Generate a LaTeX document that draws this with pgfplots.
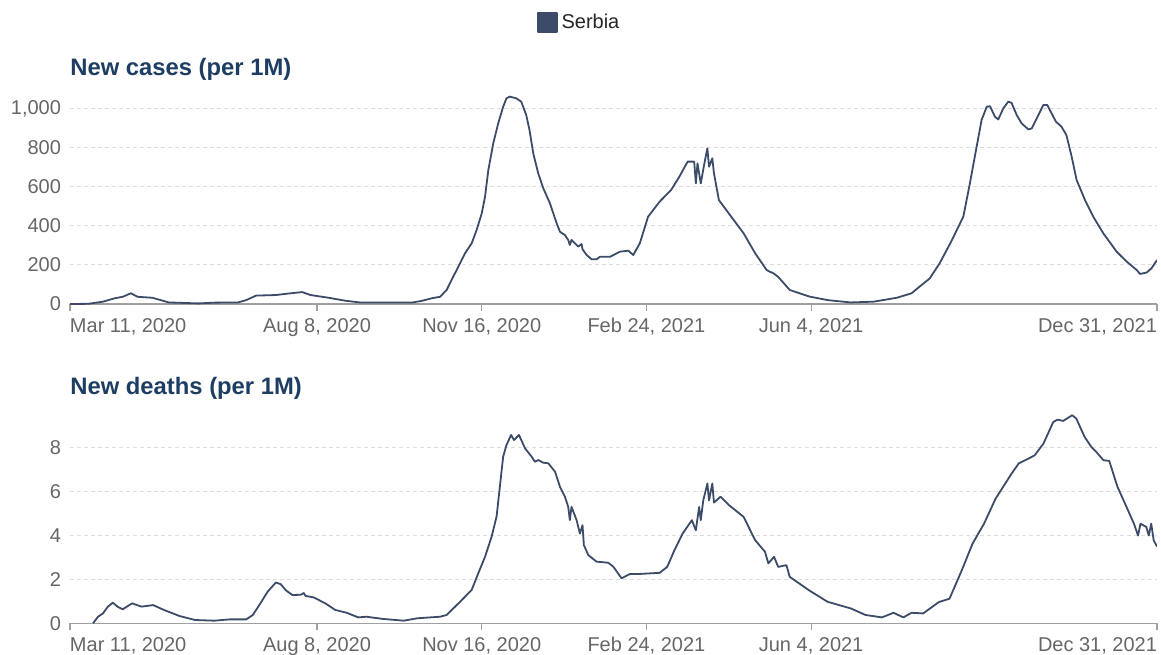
\documentclass[border=0pt]{standalone}
\usepackage{fontspec}
\setmainfont{Liberation Sans}
\usepackage{pgfplots}
\pgfplotsset{compat=1.18}
\definecolor{serbia}{HTML}{3C4C68}
\definecolor{ttl}{HTML}{1D3D63}
\definecolor{tck}{HTML}{666666}
\definecolor{axl}{HTML}{A0A0A0}
\definecolor{grd}{HTML}{DDDDDD}
\pgfplotsset{
  owid/.style={
    scale only axis, width=543.5pt,
    xmin=0, xmax=660, ymin=0,
    axis x line*=bottom, axis y line*=left,
    y axis line style={draw=none},
    x axis line style={draw=axl, line width=0.6pt, -},
    xtick={0,150,250,350,450,660},
    xticklabels={\makebox[0pt][l]{Mar 11, 2020},{Aug 8, 2020},{Nov 16, 2020},{Feb 24, 2021},{Jun 4, 2021},\makebox[0pt][r]{Dec 31, 2021}},
    tick align=outside, major tick length=3.5pt,
    xtick style={draw=axl, line width=0.6pt},
    ytick style={draw=none},
    yticklabel style={xshift=2.5pt},
    ymajorgrids, grid style={draw=grd, dash pattern=on 2pt off 1.5pt, line width=0.5pt},
    tick label style={font=\fontsize{10}{12}\selectfont, text=tck},
    scaled y ticks=false,
    /pgf/number format/assume math mode=true,
    /pgf/number format/1000 sep={,},
  }
}
\begin{document}
\begin{tikzpicture}
\path[use as bounding box] (0,0) rectangle (580.5pt,-327pt);
% ---------- New cases ----------
\begin{axis}[owid, at={(35pt,-152pt)}, anchor=south west,
  height=105.46pt, ymax=1080, ytick={0,200,400,600,800,1000},
  legend style={draw=none, fill=none, inner sep=0pt, at={(axis description cs:0.4296,1.335)}, anchor=west,
    font=\fontsize{10}{12}\selectfont, text=black!85},
  legend image code/.code={\fill[serbia] (0pt,-4.6pt) rectangle (9.2pt,4.6pt);}]
\addplot[serbia, line width=0.9pt, line join=round] table {
x y
0 0
11 1
20 12
27 29
32 37
37 55
41 37
50 32
60 8
78 3
88 7
102 8
107 20
113 43
125 46
134 55
141 61
146 46
157 32
167 17
176 8
208 8
213 15
220 30
224.7 37
228.7 72
232.7 140
235.8 191
239.8 259
243.9 311
246.9 379
250 464
252 549
254 686
257 823
260 925
263 1010
265 1053
267 1062
271 1053
274 1036
277 968
279 891
281.3 771
284.3 669
287.4 592
291.4 516
295.5 413
297.5 370
300.5 353
302.5 328
303.5 302
304.5 328
306.6 311
308.6 294
310.6 307
311.2 280
313.7 251
316.7 229
319.7 229
321.8 242
327.9 242
334 268
339 273
342 251
346 311
351 447
358 524
365 584
370 652
375 729
379 729
380 618
381 720
383 618
385 712
387 797
388 703
390 746
391 669
394 532
400 464
409 362
416 260
423 174
425 165
427 158
430 139
437 72
449 38
460 20
474 8
488 12
502 32
511 55
516 90
522 131
528 208
535 319
542.4 447
546.4 618
550.5 806
553.5 942
556.6 1010
558.6 1013
561.6 959
563.6 945
566.7 1002
569.7 1036
571.7 1030
574.8 968
577.8 925
581.9 894
583.9 899
587 951
591 1019
593.4 1019
596 976
598.6 934
602 908
605 865
608.2 754
611.2 635
616.3 532
621.3 447
627.4 362
635.5 268
641.6 217
647.7 174
649.7 154
653.7 161
656.7 183
660 225
};
\addlegendentry{Serbia}
\end{axis}
% ---------- New deaths ----------
\begin{axis}[owid, at={(35pt,-311.65pt)}, anchor=south west,
  height=106.45pt, ymax=9.7, ytick={0,2,4,6,8}]
\addplot[serbia, line width=0.9pt, line join=round] table {
x y
14 0
15 0.1
17 0.3
20 0.45
23 0.76
26 0.94
29 0.75
32 0.64
37.7 0.91
43.5 0.76
50.5 0.83
57 0.61
66.6 0.33
76 0.15
87.6 0.12
97 0.18
107 0.18
111 0.38
115.6 0.91
120 1.44
125 1.86
128 1.78
131 1.51
135 1.29
140 1.3
142 1.38
143 1.25
148 1.18
155 0.91
161 0.61
168 0.48
175 0.27
180 0.3
190 0.2
202.6 0.12
211 0.23
224.7 0.3
228.7 0.38
236.8 0.98
243.9 1.52
247.9 2.28
252 3.03
256 3.95
259 4.86
261 6.22
263 7.59
265 8.12
267.8 8.58
269.6 8.35
272.6 8.58
276.3 7.97
280.3 7.59
282.3 7.36
284.3 7.44
287.3 7.32
290.4 7.29
294.5 6.91
297.5 6.22
300.5 5.77
302.5 5.31
303.5 4.7
304.5 5.31
307.6 4.7
309.6 4.09
311.2 4.47
312 3.57
314.7 3.11
319.7 2.81
326.8 2.76
329.9 2.58
334.9 2.05
340 2.25
346 2.25
358 2.3
362.6 2.57
367 3.33
372 4.09
377.6 4.7
380 4.24
382 5.3
383 4.7
384.5 5.6
387 6.37
388 5.6
390 6.37
391 5.5
395 5.77
400 5.39
409 4.85
416 3.79
422 3.26
424 2.73
427.5 3.03
430 2.57
435 2.65
437 2.12
448.6 1.51
460 0.98
474 0.68
483 0.38
493 0.27
500 0.48
506 0.27
511 0.48
518 0.45
527.6 0.97
534 1.12
541.5 2.42
548 3.63
555 4.54
562 5.68
571.7 6.82
576 7.28
585.7 7.65
591 8.18
597 9.17
599.6 9.28
603 9.22
608.5 9.48
611 9.33
616 8.5
620 8.05
623 7.82
627.5 7.43
631 7.4
636 6.22
641.5 5.3
646 4.54
648.5 4.0
650 4.54
653.5 4.39
655 4.0
656.5 4.54
658 3.78
660 3.5
};
\end{axis}
\node[anchor=base west, font=\bfseries\fontsize{11.9}{14}\selectfont, text=ttl, inner sep=0pt] at (35pt,-37.5pt) {New cases (per 1M)};
\node[anchor=base west, font=\bfseries\fontsize{11.9}{14}\selectfont, text=ttl, inner sep=0pt] at (35pt,-197.2pt) {New deaths (per 1M)};
\end{tikzpicture}
\end{document}
